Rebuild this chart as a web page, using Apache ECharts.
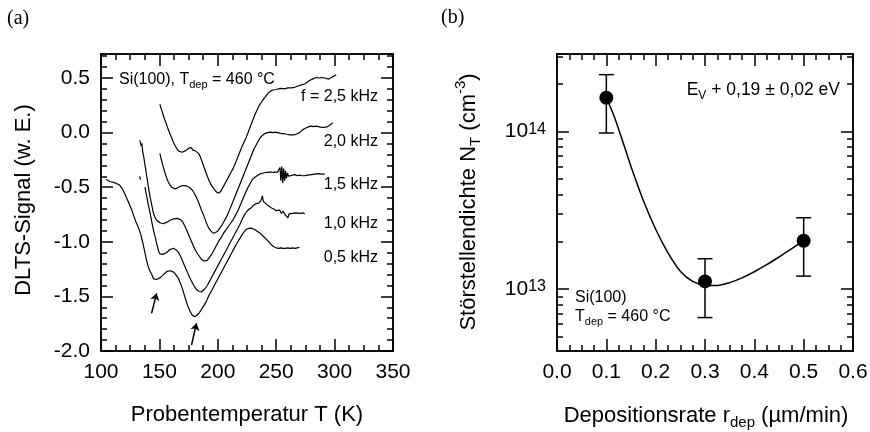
<!DOCTYPE html>
<html>
<head>
<meta charset="utf-8">
<script src="https://cdn.jsdelivr.net/npm/echarts@6.0.0/dist/echarts.min.js"></script>
<style>
  html, body { margin: 0; padding: 0; background: #fff; }
  #chart { width: 870px; height: 432px; }
</style>
</head>
<body>
<div id="chart"></div>
<script>
// ---- (a) DLTS spectra: [temperature K, signal a.u.] ----
const dlts25 = [[150.4,0.26],[151.5,0.22],[153,0.17],[154.5,0.12],[156,0.08],[157.5,0.03],[159,-0.01],[160.5,-0.05],[162,-0.09],[163.5,-0.12],[165,-0.15],[166.5,-0.17],[168,-0.18],[169.5,-0.18],[171,-0.17],[172.5,-0.165],[174,-0.16],[175.5,-0.14],[176.5,-0.155],[177.5,-0.14],[178.5,-0.16],[179.5,-0.15],[180.5,-0.165],[182,-0.17],[183.5,-0.19],[185,-0.22],[187,-0.28],[189,-0.34],[191,-0.40],[193,-0.45],[195,-0.49],[197,-0.52],[199,-0.545],[201,-0.555],[203,-0.53],[205,-0.49],[207,-0.45],[209,-0.41],[211,-0.37],[213,-0.33],[215.5,-0.27],[218,-0.20],[221,-0.12],[224.5,-0.04],[228,0.06],[231.6,0.16],[235,0.24],[238,0.29],[240.2,0.32],[243,0.36],[245,0.38],[247.3,0.39],[250,0.395],[252,0.40],[254.4,0.405],[257,0.40],[260,0.41],[263,0.41],[265.8,0.415],[268,0.425],[270,0.43],[272,0.44],[274.4,0.445],[277,0.465],[279,0.48],[281,0.49],[283,0.50],[285,0.505],[287,0.50],[289,0.505],[291.5,0.50],[293,0.495],[295,0.49],[297.2,0.505],[299,0.515],[301.4,0.53]];
const dlts20 = [[150.4,-0.19],[151.5,-0.24],[153,-0.30],[154.5,-0.36],[156,-0.41],[157.5,-0.45],[159,-0.48],[160.5,-0.50],[162,-0.51],[163.5,-0.515],[165,-0.51],[166.5,-0.50],[168,-0.49],[169.5,-0.485],[171,-0.48],[172.5,-0.485],[174,-0.49],[175.5,-0.50],[177,-0.51],[178.5,-0.53],[180,-0.56],[182,-0.60],[184,-0.65],[186,-0.71],[188,-0.76],[190,-0.82],[192,-0.87],[194,-0.90],[196,-0.92],[198,-0.915],[200,-0.90],[202,-0.87],[204,-0.84],[206,-0.80],[208,-0.76],[210,-0.71],[213,-0.63],[216,-0.55],[219,-0.47],[222,-0.39],[225,-0.31],[228,-0.23],[231,-0.15],[234,-0.09],[236.5,-0.045],[238.7,-0.02],[241,-0.005],[243,0.0],[245,0.005],[247,0.0],[249,0.005],[251,0.0],[253,-0.005],[255,-0.01],[257,-0.01],[259,-0.015],[261.5,-0.02],[264,-0.02],[265.8,-0.02],[268,-0.01],[270,0.0],[272,0.02],[274,0.035],[276,0.045],[278,0.055],[280,0.06],[282,0.055],[284,0.06],[286,0.055],[288,0.05],[290,0.048],[292,0.05],[294,0.055],[296,0.07],[298.5,0.09]];
const dlts15 = [[133.3,-0.07],[134.2,-0.12],[135,-0.10],[135.8,-0.18],[136.6,-0.22],[137.4,-0.28],[138.2,-0.33],[139,-0.39],[139.8,-0.44],[140.6,-0.50],[141.4,-0.55],[142.2,-0.60],[143,-0.64],[143.8,-0.68],[144.7,-0.73],[146,-0.77],[147.5,-0.80],[149,-0.815],[150.5,-0.825],[152,-0.83],[153.5,-0.835],[155,-0.83],[156.5,-0.82],[158,-0.81],[159.5,-0.80],[161,-0.795],[162.5,-0.79],[164,-0.785],[165.5,-0.785],[167,-0.79],[168.5,-0.80],[170,-0.82],[172,-0.86],[174,-0.91],[176,-0.96],[178,-1.01],[180,-1.06],[182,-1.10],[184,-1.13],[186,-1.16],[188,-1.175],[189.5,-1.18],[191,-1.17],[193,-1.14],[195,-1.11],[197,-1.07],[199,-1.03],[201,-0.99],[203,-0.96],[205,-0.92],[207,-0.89],[209,-0.86],[211,-0.83],[213,-0.80],[215,-0.76],[217,-0.72],[219,-0.67],[221,-0.62],[223,-0.57],[225,-0.52],[227,-0.48],[229,-0.44],[231,-0.415],[233,-0.40],[235,-0.385],[237,-0.375],[239,-0.37],[241,-0.365],[243,-0.365],[245,-0.36],[247,-0.365],[249,-0.36],[251,-0.365],[252.5,-0.36],[253.2,-0.32],[254,-0.44],[254.8,-0.31],[255.6,-0.46],[256.4,-0.33],[257.2,-0.44],[258,-0.35],[258.8,-0.42],[259.6,-0.37],[260.5,-0.40],[262,-0.385],[264,-0.39],[266,-0.385],[268,-0.395],[270,-0.39],[272,-0.395],[274.4,-0.395],[277,-0.39],[280,-0.385],[283,-0.38],[286,-0.375],[289,-0.38],[291.5,-0.38]];
const dlts10 = [[133.2,-0.40],[133.8,-0.43],[135,'-'],[137.6,-0.50],[138.5,-0.55],[139.5,-0.60],[140.5,-0.66],[141.5,-0.71],[142.5,-0.76],[143.5,-0.82],[144.5,-0.87],[145.5,-0.92],[146.5,-0.96],[147.5,-1.01],[148.5,-1.05],[149.5,-1.09],[150.4,-1.11],[151.5,-1.12],[153,-1.115],[154.5,-1.12],[156,-1.10],[157.5,-1.085],[159,-1.07],[160.5,-1.065],[162,-1.06],[163.5,-1.065],[165,-1.08],[166.5,-1.10],[168,-1.13],[170,-1.18],[172,-1.23],[174,-1.28],[176,-1.33],[178,-1.37],[180,-1.41],[182,-1.44],[184,-1.455],[186,-1.46],[187.5,-1.45],[189,-1.43],[191,-1.40],[193,-1.36],[195,-1.32],[197,-1.28],[199,-1.24],[201,-1.20],[203,-1.16],[205,-1.12],[207,-1.08],[209,-1.04],[211,-1.00],[213,-0.96],[215,-0.92],[217,-0.88],[219,-0.84],[221,-0.79],[223,-0.75],[225,-0.72],[227,-0.70],[229,-0.685],[231,-0.66],[233,-0.65],[235,-0.645],[237,-0.62],[238.2,-0.58],[239,-0.63],[240.5,-0.645],[242,-0.66],[244,-0.675],[246,-0.69],[248,-0.70],[250,-0.715],[251.5,-0.725],[253,-0.71],[254.5,-0.74],[256,-0.72],[257.5,-0.75],[259,-0.74],[260,-0.78],[261,-0.745],[262.5,-0.76],[264,-0.74],[265.5,-0.75],[267,-0.735],[268.5,-0.75],[270,-0.74],[271.5,-0.75],[273,-0.735],[274.4,-0.745]];
const dlts05 = [[104.5,-0.43],[106,-0.44],[108,-0.45],[110.5,-0.455],[113,-0.465],[116,-0.48],[118,-0.51],[120,-0.55],[122,-0.60],[124,-0.65],[126,-0.70],[128,-0.76],[130,-0.82],[132,-0.87],[134,-0.93],[136,-1.02],[137.6,-1.10],[139,-1.17],[140.5,-1.23],[142,-1.27],[143.5,-1.30],[145,-1.34],[146.2,-1.35],[147.5,-1.345],[149,-1.34],[150.5,-1.33],[152,-1.32],[153.5,-1.30],[155,-1.285],[156.5,-1.27],[158,-1.265],[159.5,-1.265],[161,-1.27],[162.5,-1.28],[164,-1.30],[166,-1.33],[168,-1.38],[170,-1.44],[172,-1.51],[174,-1.58],[176,-1.63],[178,-1.67],[180,-1.685],[182,-1.675],[184,-1.65],[186,-1.62],[188,-1.585],[190,-1.55],[192,-1.50],[194,-1.46],[196,-1.42],[198,-1.38],[200,-1.34],[202,-1.30],[204,-1.26],[206,-1.22],[208,-1.18],[210,-1.14],[212,-1.10],[214,-1.06],[216,-1.02],[218,-0.985],[220,-0.95],[222,-0.915],[224,-0.89],[226,-0.878],[228,-0.875],[230,-0.88],[232,-0.89],[234,-0.905],[236,-0.92],[238,-0.94],[240,-0.96],[242,-0.98],[244,-1.005],[246,-1.03],[248,-1.045],[250,-1.055],[252,-1.06],[254,-1.055],[256,-1.06],[258,-1.06],[260,-1.055],[262,-1.06],[264,-1.055],[266,-1.06],[268,-1.055],[270,-1.05]];
const freqLabels = ['f = 2,5 kHz', '2,0 kHz', '1,5 kHz', '1,0 kHz', '0,5 kHz'];
// arrows marking the two peaks: [tail, head]
const arrowMarks = [[[143.3, -1.655], [147.6, -1.472]], [[177.5, -1.945], [181.8, -1.746]]];

// ---- (b) trap density vs deposition rate ----
const rateX = [0.1, 0.3, 0.5];
const densityY = [1.64e14, 1.12e13, 2.03e13];
const errLow = [9.8e13, 6.6e12, 1.21e13];
const errHigh = [2.3e14, 1.56e13, 2.84e13];
const fitX = [0.1, 0.115, 0.13, 0.15, 0.175, 0.2, 0.225, 0.25, 0.275, 0.3, 0.325, 0.35, 0.375, 0.4, 0.425, 0.45, 0.475, 0.5];
const fitY = [1.64e14, 1.27e14, 9.3e13, 6.0e13, 3.65e13, 2.4e13, 1.7e13, 1.3e13, 1.12e13, 1.06e13, 1.055e13, 1.1e13, 1.18e13, 1.29e13, 1.43e13, 1.6e13, 1.8e13, 2.03e13];

// ---- tick positions ----
const tempTicks = [100, 150, 200, 250, 300, 350];
const signalTicks = [-2.0, -1.5, -1.0, -0.5, 0.0, 0.5];
const rateTicks = [0.0, 0.1, 0.2, 0.3, 0.4, 0.5, 0.6];
const densityTicks = [1e13, 1e14];

const tempMinor = [];
for (let t = 100; t <= 350; t += 12.5) tempMinor.push(t);
const signalMinor = [];
for (let k = -20; k <= 7; k++) signalMinor.push(k / 10);
const rateMinor = [];
for (let k = 0; k <= 24; k++) rateMinor.push(k * 0.025);
const densityMinor = [];
[1e12, 1e13, 1e14].forEach(d => { for (let m = 2; m <= 9; m++) densityMinor.push(m * d); });

const font = '"Liberation Sans", Arial, sans-serif';
const black = '#000';

// each side of a frame gets a major-tick axis and a minor-tick axis
function axisPair(grid, pos, type, min, max, majors, minors, label) {
  const base = {
    type, gridIndex: grid, position: pos, min, max,
    axisLine: { show: true, onZero: false, lineStyle: { color: black, width: 1.5 } },
    splitLine: { show: false }
  };
  const major = Object.assign({}, base, {
    axisTick: { show: true, inside: true, length: 12, customValues: majors, lineStyle: { color: black, width: 1.5 } },
    axisLabel: label ? Object.assign({ show: true, customValues: majors, color: black, fontFamily: font, fontSize: 21 }, label) : { show: false }
  });
  const minor = Object.assign({}, base, {
    axisTick: { show: true, inside: true, length: 6, customValues: minors, lineStyle: { color: black, width: 1.5 } },
    axisLabel: { show: false }
  });
  return [major, minor];
}

const xAxes = [].concat(
  axisPair(0, 'bottom', 'value', 100, 350, tempTicks, tempMinor, { margin: 11, formatter: v => String(v) }),
  axisPair(0, 'top', 'value', 100, 350, tempTicks, tempMinor, null),
  axisPair(1, 'bottom', 'value', 0, 0.6, rateTicks, rateMinor, { margin: 11, formatter: v => v.toFixed(1) }),
  axisPair(1, 'top', 'value', 0, 0.6, rateTicks, rateMinor, null)
);
const yAxes = [].concat(
  axisPair(0, 'left', 'value', -2.0, 0.72, signalTicks, signalMinor, { margin: 11, formatter: v => v.toFixed(1) }),
  axisPair(0, 'right', 'value', -2.0, 0.72, signalTicks, signalMinor, null),
  axisPair(1, 'left', 'log', 4.05e12, 3.11e14, densityTicks, densityMinor, {
    margin: 11,
    formatter: v => '{b|10}{s|' + Math.round(Math.log10(v)) + '}',
    rich: {
      b: { fontSize: 21, fontFamily: font, color: black },
      s: { fontSize: 16, fontFamily: font, color: black, verticalAlign: 'top' }
    }
  }),
  axisPair(1, 'right', 'log', 4.05e12, 3.11e14, densityTicks, densityMinor, null)
);

const dltsSets = [dlts25, dlts20, dlts15, dlts10, dlts05];
const series = dltsSets.map((d, i) => ({
  name: freqLabels[i],
  type: 'line',
  xAxisIndex: 0, yAxisIndex: 0,
  data: d,
  showSymbol: false,
  connectNulls: false,
  lineStyle: { color: black, width: 1.2 },
  z: 3
}));
series.push({
  type: 'lines',
  coordinateSystem: 'cartesian2d',
  xAxisIndex: 0, yAxisIndex: 0,
  symbol: ['none', 'arrow'],
  symbolSize: 7,
  lineStyle: { color: black, width: 1.5, opacity: 1 },
  data: arrowMarks.map(a => ({ coords: a }))
});
series.push({
  type: 'line',
  xAxisIndex: 4, yAxisIndex: 4,
  data: fitX.map((x, i) => [x, fitY[i]]),
  smooth: 0.3,
  showSymbol: false,
  lineStyle: { color: black, width: 1.5 },
  z: 2
});
series.push({
  type: 'custom',
  xAxisIndex: 4, yAxisIndex: 4,
  data: rateX.map((x, i) => [x, errLow[i], errHigh[i]]),
  encode: { x: 0, y: [1, 2] },
  renderItem: (params, api) => {
    const lo = api.coord([api.value(0), api.value(1)]);
    const hi = api.coord([api.value(0), api.value(2)]);
    const w = 7.5;
    const st = { stroke: black, lineWidth: 1.5 };
    return {
      type: 'group',
      children: [
        { type: 'line', shape: { x1: lo[0], y1: lo[1], x2: hi[0], y2: hi[1] }, style: st },
        { type: 'line', shape: { x1: lo[0] - w, y1: lo[1], x2: lo[0] + w, y2: lo[1] }, style: st },
        { type: 'line', shape: { x1: hi[0] - w, y1: hi[1], x2: hi[0] + w, y2: hi[1] }, style: st }
      ]
    };
  },
  z: 3
});
series.push({
  type: 'scatter',
  xAxisIndex: 4, yAxisIndex: 4,
  data: rateX.map((x, i) => [x, densityY[i]]),
  symbol: 'circle',
  symbolSize: 14,
  itemStyle: { color: black, opacity: 1 },
  z: 4
});

// rich text pieces for titles and notes
const richTitle = {
  n: { fontSize: 22, fontFamily: font, color: black, lineHeight: 32 },
  sub: { fontSize: 15, fontFamily: font, color: black, lineHeight: 16, padding: [15, 0, 0, 0], verticalAlign: 'top' },
  sup: { fontSize: 15, fontFamily: font, color: black, lineHeight: 16, padding: [0, 0, 0, 0], verticalAlign: 'top' }
};
const richNote = {
  n: { fontSize: 16, fontFamily: font, color: black, lineHeight: 22 },
  sub: { fontSize: 11, fontFamily: font, color: black, lineHeight: 12, padding: [10, 0, 0, 0], verticalAlign: 'top' }
};
const richNoteWide = {
  n: { fontSize: 17.5, fontFamily: font, color: black, lineHeight: 23 },
  sub: { fontSize: 12, fontFamily: font, color: black, lineHeight: 12, padding: [11, 0, 0, 0], verticalAlign: 'top' }
};

function txt(x, y, text, rich, align, rotation) {
  return {
    type: 'text', x, y, rotation: rotation || 0,
    style: {
      text, rich, fill: black,
      align: align, textAlign: align,
      verticalAlign: 'middle', textVerticalAlign: 'middle'
    },
    z: 10
  };
}

const graphics = [
  { type: 'text', x: 7, y: 19, style: { text: '(a)', fontSize: 20, fontFamily: '"Liberation Serif", "Times New Roman", serif', fill: black, align: 'left', textAlign: 'left', verticalAlign: 'middle', textVerticalAlign: 'middle' } },
  { type: 'text', x: 441, y: 18, style: { text: '(b)', fontSize: 20, fontFamily: '"Liberation Serif", "Times New Roman", serif', fill: black, align: 'left', textAlign: 'left', verticalAlign: 'middle', textVerticalAlign: 'middle' } },
  txt(119, 80, '{n|Si(100), T}{sub|dep}{n| = 460 °C}', richNote, 'left'),
  txt(378, 97, '{n|' + freqLabels[0] + '}', richNote, 'right'),
  txt(378, 141.5, '{n|' + freqLabels[1] + '}', richNote, 'right'),
  txt(378, 185, '{n|' + freqLabels[2] + '}', richNote, 'right'),
  txt(378, 224, '{n|' + freqLabels[3] + '}', richNote, 'right'),
  txt(378, 257.5, '{n|' + freqLabels[4] + '}', richNote, 'right'),
  txt(840, 90, '{n|E}{sub|V}{n| + 0,19 ± 0,02 eV}', richNoteWide, 'right'),
  txt(575, 298, '{n|Si(100)}', richNote, 'left'),
  txt(575, 317, '{n|T}{sub|dep}{n| = 460 °C}', richNote, 'left'),
  txt(247, 415, '{n|Probentemperatur T (K)}', richTitle, 'center'),
  txt(706, 416, '{n|Depositionsrate r}{sub|dep}{n| (µm/min)}', richTitle, 'center'),
  txt(24, 200, '{n|DLTS-Signal (w. E.)}', richTitle, 'center', Math.PI / 2),
  txt(469, 202, '{n|Störstellendichte N}{sub|T}{n| (cm}{sup|-3}{n|)}', richTitle, 'center', Math.PI / 2)
];

const chart = echarts.init(document.getElementById('chart'), null, { renderer: 'canvas' });
chart.setOption({
  animation: false,
  backgroundColor: '#fff',
  textStyle: { fontFamily: font, color: black },
  grid: [
    { left: 101, top: 54, width: 292, height: 297, containLabel: false, outerBoundsMode: 'none', show: false },
    { left: 557, top: 54, width: 296, height: 297, containLabel: false, outerBoundsMode: 'none', show: false }
  ],
  xAxis: xAxes,
  yAxis: yAxes,
  series,
  graphic: { elements: graphics }
});
</script>
</body>
</html>
